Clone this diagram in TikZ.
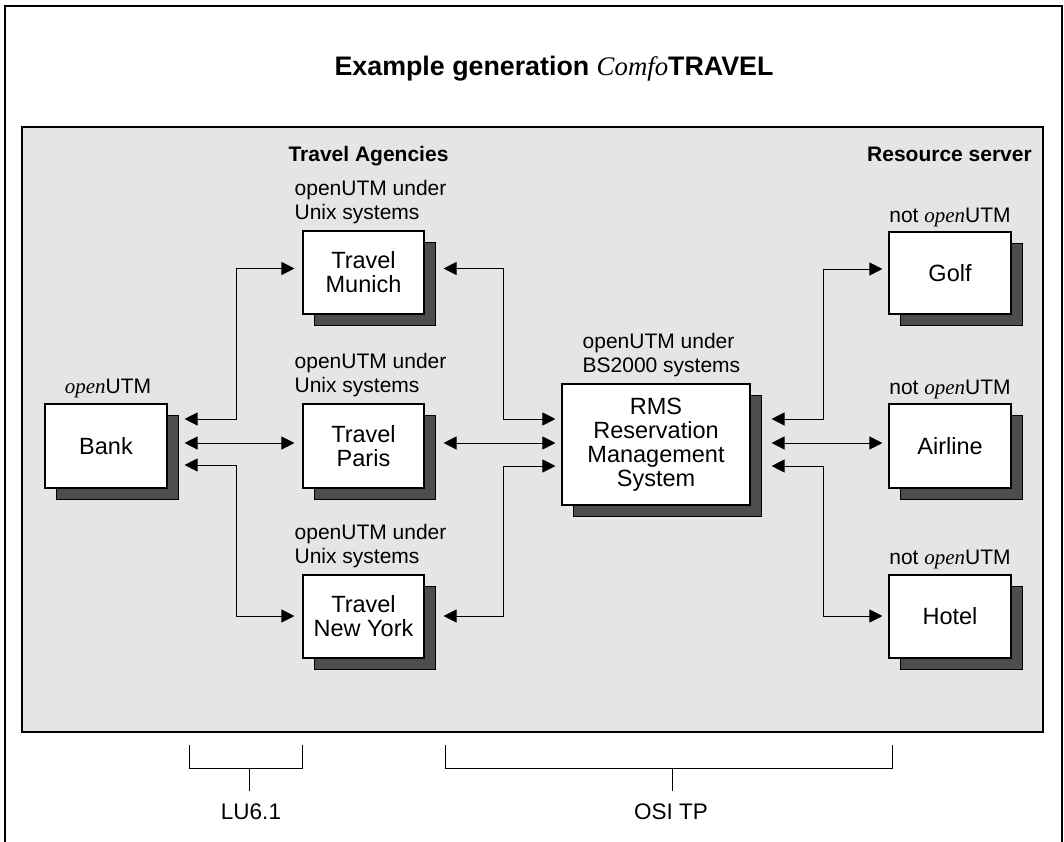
\documentclass[tikz,border=0pt]{standalone}
\usepackage{fontspec}
\setmainfont{Liberation Sans}
\newfontfamily\tms{Liberation Serif}
\usetikzlibrary{calc,arrows.meta,shadows}
\definecolor{panel}{HTML}{E5E5E5}
\definecolor{sgray}{HTML}{4D4D4D}
\newcommand\opn{{\tms\itshape open}}
\begin{document}
\begin{tikzpicture}[x=1pt,y=-1pt,
  box/.style={draw, line width=1.1pt, fill=white, align=center, inner sep=0pt,
    font=\fontsize{23.5}{24}\selectfont,
    drop shadow={shadow xshift=11pt, shadow yshift=-11pt, opacity=1, fill=sgray, draw=black, line width=0.8pt}},
  lbl/.style={font=\fontsize{21}{24}\selectfont, align=left, inner sep=0pt},
  hdr/.style={font=\bfseries\fontsize{21}{24}\selectfont, inner sep=0pt},
  conn/.style={line width=1pt, {Triangle[length=13pt,width=13pt]}-{Triangle[length=13pt,width=13pt]}},
  brk/.style={line width=1pt}]
\useasboundingbox (0,0) rectangle (1064,842);
% frame and panel
\draw[line width=1.3pt] (5,842) -- (5,6) -- (1062,6) -- (1062,842);
\draw[fill=panel, line width=1.3pt] (22,127) rectangle (1043,732);
% title
\node[font=\fontsize{26.8}{30}\selectfont, anchor=base, inner sep=0pt] (title) at (554,76)
  {\bfseries Example generation {\tms\itshape\mdseries Comfo}TRAVEL};
\node[hdr, anchor=base] (ta) at (368.5,162) {Travel Agencies};
\node[hdr, anchor=base] (rs) at (949.5,162) {Resource server};
% boxes
\node[box, minimum width=122pt, minimum height=84pt] (bank) at (106,446) {Bank};
\node[box, minimum width=121pt, minimum height=83pt] (munich) at (363.5,272.5) {Travel\\Munich};
\node[box, minimum width=121pt, minimum height=84pt] (paris) at (363.5,446) {Travel\\Paris};
\node[box, minimum width=121pt, minimum height=83pt] (ny) at (363.5,616.5) {Travel\\New York};
\node[box, minimum width=188pt, minimum height=121pt] (rms) at (656,444.5) {RMS\\Reservation\\Management\\System};
\node[box, minimum width=122pt, minimum height=82pt] (golf) at (950,273) {Golf};
\node[box, minimum width=122pt, minimum height=84pt] (airline) at (950,446) {Airline};
\node[box, minimum width=122pt, minimum height=83pt] (hotel) at (950,616.5) {Hotel};
% labels
\node[lbl, anchor=base] (lbank) at ($(bank.north)+(2,-10)$) {\opn UTM};
\node[lbl, anchor=south west] (lmunich) at ($(munich.north west)+(-8,-6)$) {openUTM under\\Unix systems};
\node[lbl, anchor=south west] (lparis) at ($(paris.north west)+(-8,-6)$) {openUTM under\\Unix systems};
\node[lbl, anchor=south west] (lny) at ($(ny.north west)+(-8,-6)$) {openUTM under\\Unix systems};
\node[lbl, anchor=south west] (lrms) at ($(rms.north west)+(21,-6)$) {openUTM under\\BS2000 systems};
\node[lbl, anchor=base] (lgolf) at ($(golf.north)+(0,-9)$) {not \opn UTM};
\node[lbl, anchor=base] (lairline) at ($(airline.north)+(0,-9)$) {not \opn UTM};
\node[lbl, anchor=base] (lhotel) at ($(hotel.north)+(0,-10)$) {not \opn UTM};
% connectors left
\draw[conn] ($(bank.east)+(17,-27)$) -- ++(52,0) |- ($(munich.west)+(-8,-4)$);
\draw[conn] ($(bank.east)+(17,-3)$) -- ($(paris.west)+(-8,-3)$);
\draw[conn] ($(bank.east)+(17,19)$) -- ++(52,0) |- ($(ny.west)+(-8,-0.5)$);
% connectors center
\draw[conn] ($(munich.east)+(19,-4)$) -- ++(60,0) |- ($(rms.west)+(-6,-25.5)$);
\draw[conn] ($(paris.east)+(19,-3)$) -- ($(rms.west)+(-6,-1.5)$);
\draw[conn] ($(ny.east)+(19,-0.5)$) -- ++(60,0) |- ($(rms.west)+(-6,21.5)$);
% connectors right
\draw[conn] ($(rms.east)+(21,-25.5)$) -- ++(52,0) |- ($(golf.west)+(-6,-4)$);
\draw[conn] ($(rms.east)+(21,-1.5)$) -- ($(airline.west)+(-6,-3)$);
\draw[conn] ($(rms.east)+(21,21.5)$) -- ++(52,0) |- ($(hotel.west)+(-6,-0.5)$);
% brackets
\node[lbl, anchor=base, font=\fontsize{22.5}{24}\selectfont] (lu) at (251,819) {LU6.1};
\node[lbl, anchor=base, font=\fontsize{22.5}{24}\selectfont] (osi) at (671,819) {OSI TP};
\coordinate (lua) at (189,745);
\coordinate (lub) at (302,745);
\coordinate (luc) at (249,768);
\coordinate (osa) at (445,745);
\coordinate (osb) at (892,745);
\coordinate (osc) at (672,768);
\draw[brk] (lua) -- ++(0,23) -| (lub);
\draw[brk] (osa) -- ++(0,23) -| (osb);
\draw[brk, shorten >=12pt] (luc) -- (luc |- lu.north);
\draw[brk, shorten >=12pt] (osc) -- (osc |- osi.north);
\end{tikzpicture}
\end{document}
